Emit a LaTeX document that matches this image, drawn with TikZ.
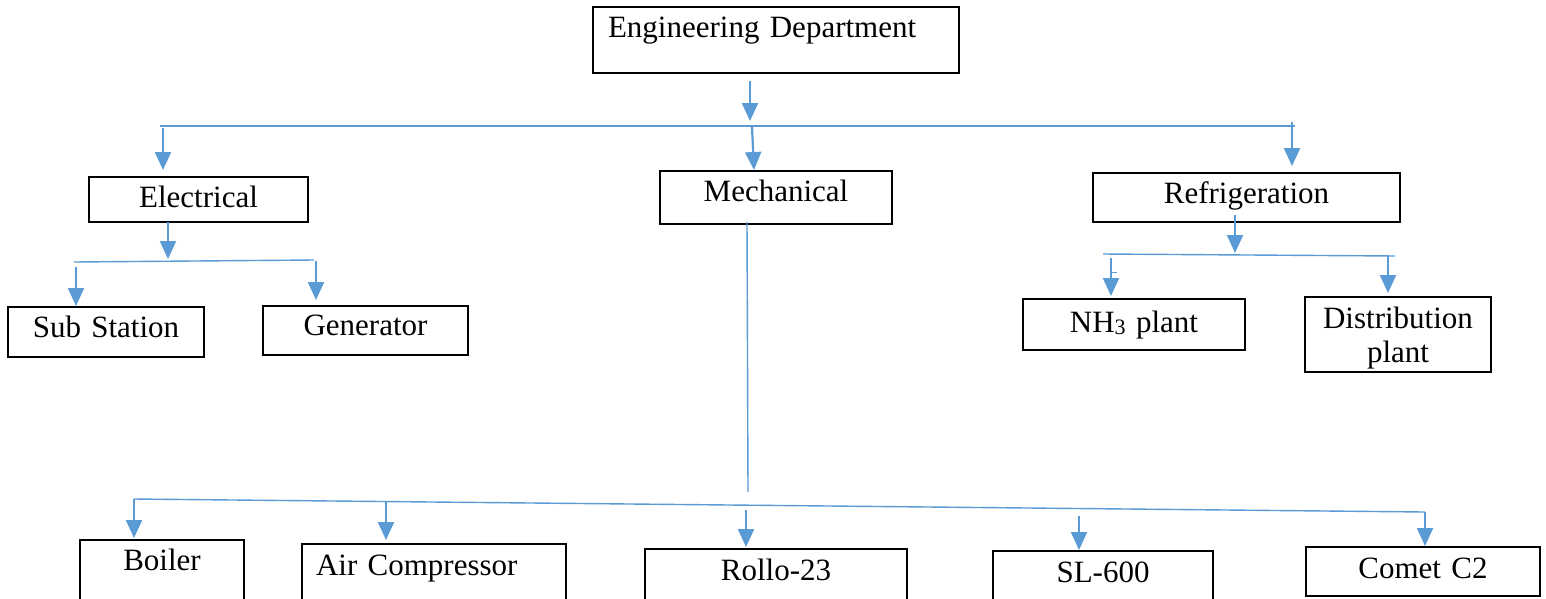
\documentclass[tikz,border=0pt]{standalone}
\usepackage{fontspec}
\setmainfont{Liberation Serif}
\usetikzlibrary{arrows.meta}
\definecolor{conn}{HTML}{5B9BD5}
\begin{document}
\begin{tikzpicture}[x=1pt,y=-1pt,
  box/.style={draw=black, line width=2pt, inner sep=0pt, outer sep=0pt, anchor=north west,
    align=center, font=\fontsize{31}{34}\selectfont},
  arr/.style={draw=conn, line width=2.2pt, -{Triangle[width=16pt,length=18pt]}},
  bar/.style={draw=conn, line width=1.4pt}]
\useasboundingbox[fill=white] (0,0) rectangle (1546,598);

% boxes
\node[box, align=left, text width=366pt, text height=30pt, text depth=36pt] (eng) at (593,7) {\hspace*{15pt}Engineering Department};
\node[box, text width=219pt, text height=30pt, text depth=15pt] (elec) at (89,177) {Electrical};
\node[box, text width=232pt, text height=30pt, text depth=23pt] (mech) at (660,171) {Mechanical};
\node[box, text width=307pt, text height=30pt, text depth=19pt] (refr) at (1093,173) {Refrigeration};
\node[box, text width=196pt, text height=30pt, text depth=20pt] (sub) at (8,307) {Sub Station};
\node[box, text width=205pt, text height=29pt, text depth=20pt] (gen) at (263,306) {Generator};
\node[box, text width=222pt, text height=33pt, text depth=18pt] (nh3) at (1023,299) {NH{\fontsize{22}{24}\selectfont\raisebox{-2pt}{3}} plant};
\node[box, text width=186pt, text height=31pt, text depth=44pt] (dist) at (1305,297) {Distribution\\plant};
\node[box, text width=164pt, text height=30pt, text depth=40pt] (boil) at (80,540) {Boiler};
\node[box, align=left, text width=264pt, text height=31pt, text depth=40pt] (air) at (302,544) {\hspace*{14pt}Air Compressor};
\node[box, text width=262pt, text height=31pt, text depth=40pt] (rollo) at (645,549) {Rollo-23};
\node[box, text width=220pt, text height=31pt, text depth=40pt] (sl) at (993,551) {SL-600};
\node[box, text width=234pt, text height=31pt, text depth=18pt] (comet) at (1306,547) {Comet C2};

% coordinates
\coordinate (e0) at (750,81);   \coordinate (e1) at (750,121);
\coordinate (b1l) at (160,126); \coordinate (b1r) at (1295,126);
\coordinate (l0) at (163,128);  \coordinate (l1) at (163,170);
\coordinate (m0) at (752,127);  \coordinate (m1) at (754,170);
\coordinate (r0) at (1292,122); \coordinate (r1) at (1292,166);
\coordinate (el0) at (168,222); \coordinate (el1) at (168,259);
\coordinate (b2l) at (74,262);  \coordinate (b2r) at (314,260);
\coordinate (s0) at (76,267);   \coordinate (s1) at (76,306);
\coordinate (g0) at (316,261);  \coordinate (g1) at (316,300);
\coordinate (rf0) at (1235,215);\coordinate (rf1) at (1235,253);
\coordinate (b3l) at (1103,254);\coordinate (b3r) at (1395,256);
\coordinate (n0) at (1111,258); \coordinate (n1) at (1111,296);
\coordinate (d0) at (1388,255); \coordinate (d1) at (1388,293);
\coordinate (mc0) at (747,222); \coordinate (mc1) at (748,492);
\coordinate (b4l) at (134,499); \coordinate (b4r) at (1425,512);
\coordinate (bo1) at (134,538);
\coordinate (a0) at (386,502);  \coordinate (a1) at (386,540);
\coordinate (ro0) at (746,510); \coordinate (ro1) at (746,547);
\coordinate (sl0) at (1079,516);\coordinate (sl1) at (1079,550);
\coordinate (c1) at (1425,546);

% connectors
\draw[arr] (e0) -- (e1);
\draw[bar] (b1l) -- (b1r);
\draw[arr] (l0) -- (l1);
\draw[arr] (m0) -- (m1);
\draw[arr] (r0) -- (r1);
\draw[arr] (el0) -- (el1);
\draw[bar] (b2l) -- (b2r);
\draw[arr] (s0) -- (s1);
\draw[arr] (g0) -- (g1);
\draw[arr] (rf0) -- (rf1);
\draw[bar] (b3l) -- (b3r);
\draw[arr] (n0) -- (n1);
\draw[bar, line width=1pt] (1111,272) -- (1117,272);
\draw[arr] (d0) -- (d1);
\draw[bar] (mc0) -- (mc1);
\draw[bar] (b4l) -- (b4r);
\draw[arr] (b4l) -- (bo1);
\draw[arr] (a0) -- (a1);
\draw[arr] (ro0) -- (ro1);
\draw[arr] (sl0) -- (sl1);
\draw[arr] (b4r) -- (c1);
\end{tikzpicture}
\end{document}
